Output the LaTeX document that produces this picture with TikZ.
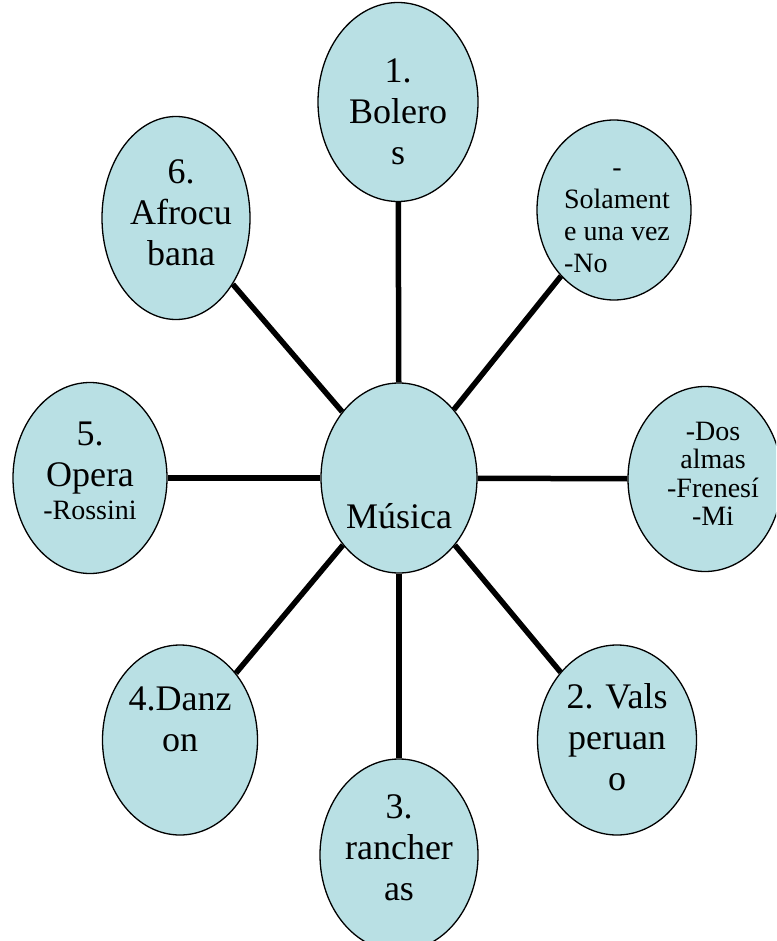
\documentclass[tikz,border=0pt]{standalone}
\usepackage{fontspec}
\setmainfont{Liberation Serif}
\usetikzlibrary{shapes.geometric}
\definecolor{bubblefill}{RGB}{185,224,228}
\begin{document}
\begin{tikzpicture}[x=1pt, y=-1pt,
  bubble/.style={ellipse, draw, line width=1.3pt, fill=bubblefill, inner sep=0pt},
  spoke/.style={line width=5.5pt},
  bigtext/.style={anchor=north, inner sep=0pt, align=center, font=\fontsize{36}{41}\selectfont},
  smalltext/.style={anchor=north, inner sep=0pt, align=center, font=\fontsize{28}{32}\selectfont}]
  \clip (0,0) rectangle (776,941);
  \node[bubble, minimum width=156pt, minimum height=190pt] (musica) at (399,478) {};
  \node[bubble, minimum width=160pt, minimum height=199pt] (boleros) at (398,102) {};
  \node[bubble, minimum width=154pt, minimum height=180pt] (solamente) at (614,210) {};
  \node[bubble, minimum width=154pt, minimum height=185pt] (dosalmas) at (705,479) {};
  \node[bubble, minimum width=159pt, minimum height=190pt] (vals) at (617,740) {};
  \node[bubble, minimum width=158pt, minimum height=192pt] (rancheras) at (399,855) {};
  \node[bubble, minimum width=155pt, minimum height=190pt] (danzon) at (180,740) {};
  \node[bubble, minimum width=154pt, minimum height=191pt] (opera) at (90,478) {};
  \node[bubble, minimum width=148pt, minimum height=203pt] (afrocubana) at (176,218) {};
  \draw[spoke] (musica) -- (boleros);
  \draw[spoke] (musica) -- (solamente);
  \draw[spoke] (musica) -- (dosalmas);
  \draw[spoke] (musica) -- (vals);
  \draw[spoke] (musica) -- (rancheras);
  \draw[spoke] (musica) -- (danzon);
  \draw[spoke] (musica) -- (opera);
  \draw[spoke] (musica) -- (afrocubana);
  \node[bigtext] (musicatext) at (399,501) {\rule{0pt}{0.75em}Música};
  \node[bigtext] (bolerostext) at (398,55) {\rule{0pt}{0.75em}1.\\Bolero\\s};
  \node[smalltext] (solamentetext) at (617,155) {\rule{0pt}{0.75em}-\\Solament\\e una vez\\\rlap{-No}\phantom{e una vez}};
  \node[smalltext, font=\fontsize{28}{28.5}\selectfont] (dosalmastext) at (713,419) {\rule{0pt}{0.75em}-Dos\\almas\\-Frenesí\\-Mi};
  \node[bigtext] (valstext) at (617,681) {\rule{0pt}{0.75em}2. Vals\\peruan\\o};
  \node[bigtext] (rancherastext) at (399,791) {\rule{0pt}{0.75em}3.\\rancher\\as};
  \node[bigtext] (danzontext) at (180,683) {\rule{0pt}{0.75em}4.Danz\\on};
  \node[bigtext] (operatext) at (90,418) {\rule{0pt}{0.75em}5.\\Opera\\[-8pt]{\fontsize{28}{27}\selectfont -Rossini}};
  \node[bigtext] (afrocubanatext) at (181,156) {\rule{0pt}{0.75em}6.\\Afrocu\\bana};
\end{tikzpicture}
\end{document}
